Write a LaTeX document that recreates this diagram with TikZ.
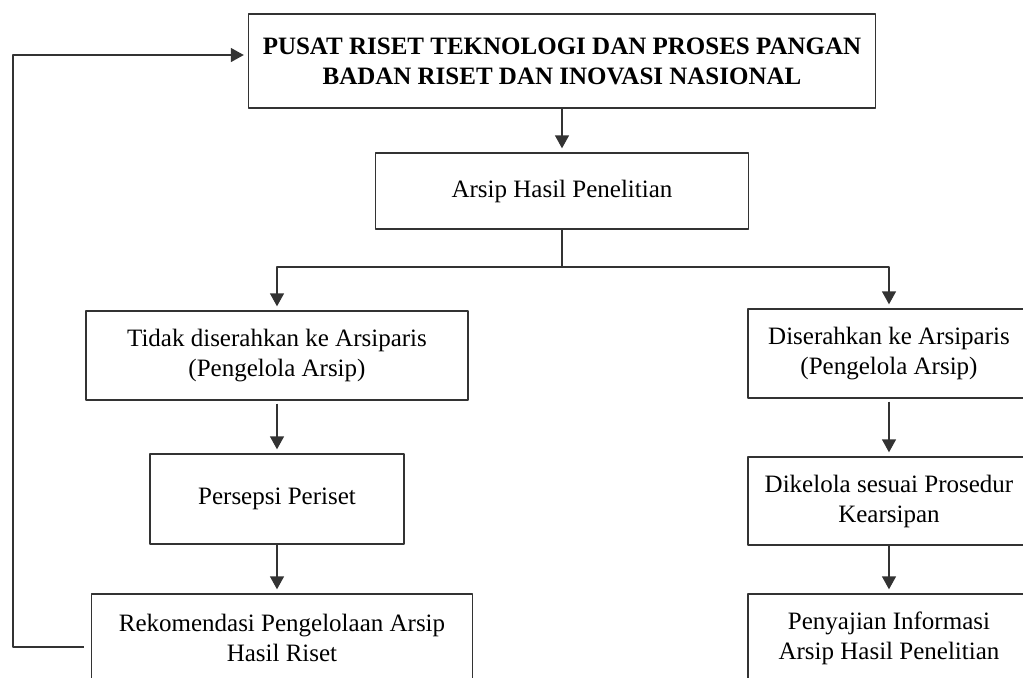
\documentclass[tikz,border=0pt]{standalone}
\usepackage{fontspec}
\setmainfont{Liberation Serif}
\usetikzlibrary{arrows.meta}
\tikzset{
	kotak/.style={draw=black!80, line width=0.7pt, align=center, inner sep=2pt},
	panah/.style={draw=black!80, line width=0.7pt, -{Triangle[length=6.5pt,width=7pt]}, shorten >=2pt},
	garis/.style={draw=black!80, line width=0.7pt}
}
\begin{document}
	\begin{tikzpicture}[x=0.5pt, y=-0.5pt, font=\fontsize{12.5}{15}\selectfont, line join=round]
			\useasboundingbox (0,0) rectangle (1023,677);
			\clip (0,0) rectangle (1023,677);
			\node[kotak, minimum width=313.5pt, minimum height=47pt, font=\fontsize{12.5}{15}\selectfont\bfseries] (pusat) at (562,61) {PUSAT RISET TEKNOLOGI DAN PROSES PANGAN\\BADAN RISET DAN INOVASI NASIONAL};
			\node[kotak, minimum width=186.5pt, minimum height=38pt] (arsip) at (562,191) {Arsip Hasil Penelitian};
			\node[kotak, minimum width=191pt, minimum height=44.5pt] (tidak) at (277,355.5) {Tidak diserahkan ke Arsiparis\\(Pengelola Arsip)};
			\node[kotak, minimum width=127pt, minimum height=45pt] (persepsi) at (277,499) {Persepsi Periset};
			\node[kotak, minimum width=190.5pt, minimum height=44pt] (rekom) at (282,638) {Rekomendasi Pengelolaan Arsip\\Hasil Riset};
			\node[kotak, minimum width=141pt, minimum height=44.5pt] (serah) at (889,353.5) {Diserahkan ke Arsiparis\\(Pengelola Arsip)};
			\node[kotak, minimum width=141pt, minimum height=44pt] (kelola) at (889,501) {Dikelola sesuai Prosedur\\Kearsipan};
			\node[kotak, minimum width=141pt, minimum height=44pt] (saji) at (889,638) {Penyajian Informasi\\Arsip Hasil Penelitian};
			\coordinate (cabang) at (562,267);
			\coordinate (balik) at (13,647);
			\draw[panah] (pusat) -- (arsip);
			\draw[garis] (arsip.south) -- (cabang);
			\draw[panah] (cabang) -| (tidak.north);
			\draw[panah] (cabang) -| (serah.north);
			\draw[panah, shorten <=1.5pt] (tidak) -- (persepsi);
			\draw[panah] (persepsi) -- (rekom.north -| persepsi);
			\draw[panah, shorten <=1.5pt] (serah) -- (kelola);
			\draw[panah] (kelola) -- (saji);
			\draw[panah, shorten <=3.5pt] (rekom.west |- balik) -- (balik) |- ([yshift=3pt]pusat.west);
	\end{tikzpicture}
\end{document}
